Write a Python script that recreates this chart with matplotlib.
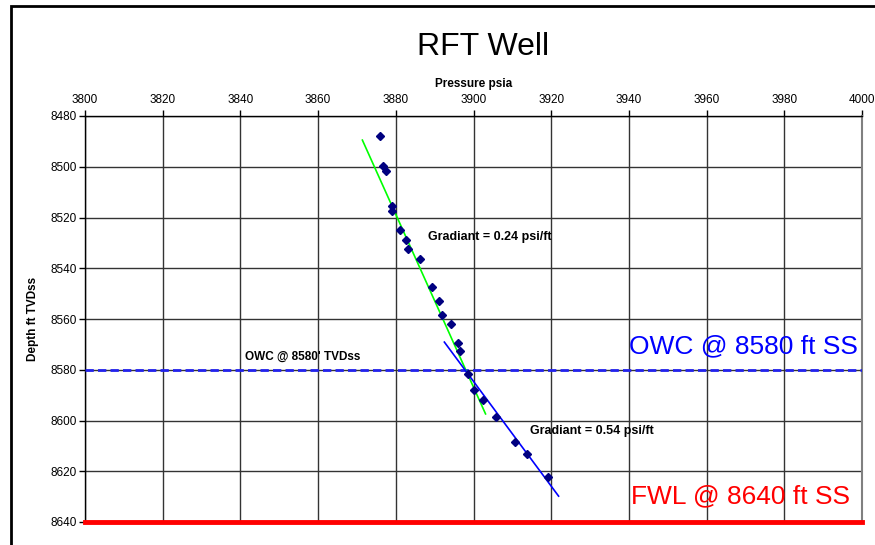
import matplotlib
matplotlib.use("Agg")
import matplotlib.pyplot as plt
from matplotlib.patches import Rectangle

plt.rcParams['font.family'] = ['Liberation Sans', 'DejaVu Sans']

# Data (pressure psia, depth ft TVDss)
pressure = [3876.0, 3876.8, 3877.6, 3878.9, 3879.1, 3881.2, 3882.5, 3883.2,
            3886.3, 3889.2, 3891.0, 3892.0, 3894.3, 3895.9, 3896.4, 3898.5,
            3900.1, 3902.5, 3905.7, 3910.6, 3913.8, 3919.2]
depth = [8487.9, 8499.7, 8501.7, 8515.5, 8517.4, 8524.9, 8528.9, 8532.4,
         8536.4, 8547.4, 8552.9, 8558.4, 8562.0, 8569.5, 8572.6, 8581.8,
         8588.0, 8592.0, 8598.5, 8608.3, 8613.2, 8622.1]

gas_line_p = [3871.4, 3903.1]
gas_line_d = [8489.5, 8597.4]
oil_line_p = [3892.5, 3921.9]
oil_line_d = [8569.1, 8629.8]

owc_depth = 8580
fwl_depth = 8640
x_ticks = list(range(3800, 4001, 20))
y_ticks = list(range(8480, 8641, 20))

fig = plt.figure(figsize=(8.75, 5.45), dpi=100)
ax = fig.add_axes([85/875, 1-522/545, (862-85)/875, (522-116)/545])

ax.set_xlim(3800, 4000)
ax.set_ylim(8640, 8480)
ax.set_xticks(x_ticks)
ax.set_yticks(y_ticks)
ax.xaxis.tick_top()
ax.xaxis.set_label_position('top')
ax.tick_params(axis='both', labelsize=8.5, length=4, width=1, color='black', pad=2)
ax.tick_params(axis='x', pad=3)
ax.grid(True, color='#333333', linewidth=1)
ax.set_axisbelow(True)

for s in ['left', 'top']:
    ax.spines[s].set_color('black')
    ax.spines[s].set_linewidth(1)
for s in ['right', 'bottom']:
    ax.spines[s].set_color('#808080')
    ax.spines[s].set_linewidth(1.5)

ax.set_xlabel('Pressure psia', fontsize=8.5, fontweight='bold', labelpad=5)
ax.set_ylabel('Depth ft TVDss', fontsize=8.5, fontweight='bold', labelpad=8)

ax.axhline(owc_depth, color='#2222EE', linewidth=2, linestyle=(0, (3, 1.5)), zorder=3)
ax.axhline(fwl_depth, color='#FF0000', linewidth=3.5, zorder=4, clip_on=False)

ax.plot(gas_line_p, gas_line_d, color='#00FF00', linewidth=1.2, zorder=4)
ax.plot(oil_line_p, oil_line_d, color='#0000FF', linewidth=1.2, zorder=4)
ax.plot(pressure, depth, linestyle='none', marker='D', markersize=4.5,
        color='#000080', zorder=5)

ax.text(3888.2, 8527.5, 'Gradiant = 0.24 psi/ft', fontsize=9, fontweight='bold', va='center')
ax.text(3914.5, 8604.0, 'Gradiant = 0.54 psi/ft', fontsize=9, fontweight='bold', va='center')
ax.text(3841.3, 8574.8, "OWC @ 8580' TVDss", fontsize=8.5, fontweight='bold', va='center')
ax.text(3999.0, 8570.8, 'OWC @ 8580 ft SS', fontsize=19, color='#0000FF', ha='right', va='center')
ax.text(3996.9, 8630.0, 'FWL @ 8640 ft SS', fontsize=19, color='#FF0000', ha='right', va='center')

fig.text(483/875, 1-47/545, 'RFT Well', fontsize=23, ha='center', va='center')

fig.patches.append(Rectangle((11/875, -0.1), 1.2, 1-6/545+0.1, transform=fig.transFigure,
                             fill=False, edgecolor='black', linewidth=2))

fig.savefig('out.png', dpi=100)
